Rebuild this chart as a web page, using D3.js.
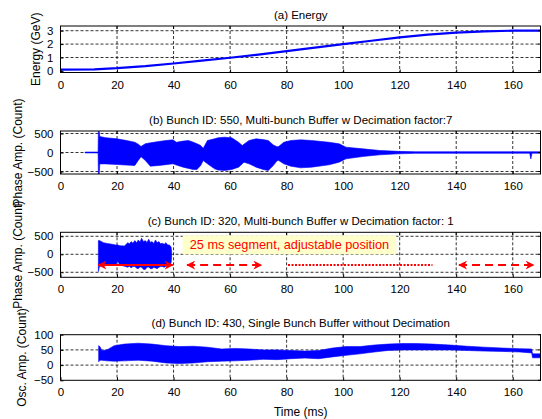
<!DOCTYPE html>
<html>
<head>
<meta charset="utf-8">
<script src="https://cdn.jsdelivr.net/npm/d3@7"></script>
<style>
  html, body { margin: 0; padding: 0; background: #fff; }
  svg { display: block; }
  text { font-family: "Liberation Sans", Arial, sans-serif; fill: #000; }
</style>
</head>
<body>
<svg id="chart" width="542" height="419"></svg>
<script>
// ---------------- DATA ----------------
const xTicks = [0, 20, 40, 60, 80, 100, 120, 140, 160];
const xDomain = [0, 170];

// (a) Energy
const energyTime = [0, 12, 20, 30, 40, 50, 60, 70, 80, 90, 100, 110, 120, 130, 140, 150, 160, 170];
const energyGeV  = [0.1, 0.12, 0.2, 0.35, 0.55, 0.76, 0.98, 1.22, 1.48, 1.74, 2.0, 2.25, 2.5, 2.7, 2.86, 2.95, 3.0, 3.0];
const energyTicks = [0, 1, 2, 3];

// (b) Bunch 550 envelope
const bTime  = [8.7, 13.3, 13.4, 13.7, 13.9, 16, 20, 23, 26.3, 27.5, 28.5, 30, 31.8, 34.8, 37.3, 39.8, 41, 43.4, 45.3, 47, 48.3, 49.6, 50.5, 52, 54.5, 55.7, 58, 60.6, 63, 64.3, 64.9, 66.7, 69.2, 71.7, 73.5, 75.3, 76.6, 77.2, 79, 81.5, 85, 88.8, 95, 98.6, 101, 107, 113, 119.5, 125.6, 166.0, 166.4, 166.8, 170];
const bUpper = [12, 12, 560, 560, 420, 390, 360, 320, 270, 220, 160, 230, 255, 290, 316, 333, 270, 300, 316, 270, 230, 185, 110, 316, 360, 386, 403, 386, 270, 184, 220, 316, 360, 340, 316, 200, 150, 160, 270, 316, 333, 316, 270, 228, 140, 96, 53, 30, 20, 20, 20, 20, 20];
const bLower = [-12, -12, -566, -566, -300, -300, -316, -330, -342, -210, -110, -210, -360, -342, -320, -298, -330, -386, -420, -447, -447, -342, -210, -298, -430, -460, -474, -447, -386, -300, -254, -298, -386, -447, -474, -342, -220, -210, -298, -360, -404, -386, -325, -254, -167, -105, -61, -35, -22, -20, -170, -20, -20];
const phaseTicks = [-500, 0, 500];

// (c) Bunch 320 envelope
const cTime  = [13.4, 13.8, 15.2, 16.5, 17.7, 19.5, 20.3, 21, 22.6, 23.8, 24.4, 25, 25.6, 26.3, 27, 27.5, 28.1, 28.7, 29.4, 30, 30.6, 31.2, 31.8, 32.4, 33, 33.6, 34.2, 34.8, 35.4, 36, 36.7, 37.3, 37.9, 38.5, 39.1, 39.3];
const cUpper = [380, 380, 324, 300, 287, 260, 259, 240, 231, 324, 290, 352, 310, 380, 320, 398, 340, 444, 350, 380, 330, 417, 330, 352, 300, 398, 320, 352, 290, 306, 280, 324, 260, 259, 213, 100];
const cLower = [-480, -330, -320, -310, -300, -280, -200, -300, -330, -360, -330, -380, -340, -340, -390, -400, -350, -360, -420, -420, -360, -350, -400, -400, -360, -380, -400, -360, -340, -340, -360, -330, -320, -300, -250, -100];

// (d) Bunch 430 envelope
const dTime  = [13.5, 14.0, 14.6, 16.4, 19, 22.6, 27.5, 32.4, 37.3, 42, 47, 52, 57, 61.8, 66.7, 71.7, 76.6, 81.5, 86.4, 91.3, 96.2, 101, 106, 111, 115.8, 120.7, 125.6, 131.8, 137.9, 144, 150, 156.3, 162.5, 166.7, 167.0, 170];
const dUpper = [64, 60, 48, 50, 64, 69, 72, 69, 64, 61, 62, 59, 53, 55, 53, 50, 50, 48, 46, 48, 56, 61, 61, 66, 69, 71, 71, 69, 66, 62, 59, 56, 54, 53, 37, 37];
const dLower = [11, 16, 16, 14, 13, 14, 16, 13, 7, 5, 7, 11, 13, 14, 16, 19, 18, 21, 23, 21, 27, 32, 37, 43, 48, 50, 50, 50, 50, 48, 46, 45, 43, 40, 24, 24];
const oscTicks = [-50, 0, 50, 100];

// annotation (panel c): segments in ms, and style type
const segStart = [13.4, 44.8, 80.5, 141];
const segEnd   = [39.7, 71.1, 131.6, 167.4];
const segStyle = ["solid", "dashed", "dotted", "dashed"];
const segValue = -300;   // vertical position in counts
const noteText = "25 ms segment, adjustable position";
const noteCenterMs = 81;
const noteValue = 230;

// ---------------- LAYOUT ----------------
const svg = d3.select("#chart");
const x = d3.scaleLinear().domain(xDomain).range([60.5, 541]);
const BLUE = "#0000ff";
const RED = "#ff0000";

const panels = [
  { top: 26,    bottom: 72.5,  domain: [-0.12, 3.35], ticks: energyTicks, grid: [1, 2, 3],
    title: "(a) Energy", ylabel: "Energy (GeV)", ylabelX: 40 },
  { top: 131,   bottom: 174,   domain: [-566, 566], ticks: phaseTicks, grid: [-500, 0, 500],
    title: "(b) Bunch ID: 550, Multi-bunch Buffer w Decimation factor:7", ylabel: "Phase Amp. (Count)", ylabelX: 22 },
  { top: 232.3, bottom: 277.3, domain: [-639, 611], ticks: phaseTicks, grid: [-500, 0, 500],
    title: "(c) Bunch ID: 320, Multi-bunch Buffer w Decimation factor: 1", ylabel: "Phase Amp. (Count)", ylabelX: 22 },
  { top: 334.7, bottom: 380.3, domain: [-50, 100], ticks: oscTicks, grid: [0, 50],
    title: "(d) Bunch ID: 430, Single Bunch Buffer without Decimation", ylabel: "Osc. Amp. (Count)", ylabelX: 26 }
];

const defs = svg.append("defs");
defs.append("marker")
  .attr("id", "head")
  .attr("viewBox", "0 0 10 10")
  .attr("refX", 9).attr("refY", 5)
  .attr("markerUnits", "userSpaceOnUse")
  .attr("markerWidth", 9).attr("markerHeight", 9)
  .attr("orient", "auto-start-reverse")
  .append("path")
  .attr("d", "M0,0 L10,5 L0,10 L3,5 z")
  .attr("fill", RED);

panels.forEach((p, i) => {
  p.y = d3.scaleLinear().domain(p.domain).range([p.bottom, p.top]);
  const g = svg.append("g");
  p.g = g;
  defs.append("clipPath").attr("id", "clip" + i)
    .append("rect").attr("x", x.range()[0]).attr("y", p.top)
    .attr("width", x.range()[1] - x.range()[0]).attr("height", p.bottom - p.top);

  // grid
  g.selectAll(".vg").data(xTicks.filter(t => t > 0)).join("line")
    .attr("x1", d => x(d)).attr("x2", d => x(d))
    .attr("y1", p.top).attr("y2", p.bottom)
    .attr("stroke", "#000").attr("stroke-width", 0.8).attr("stroke-dasharray", "3,2");
  g.selectAll(".hg").data(p.grid).join("line")
    .attr("x1", x.range()[0]).attr("x2", x.range()[1])
    .attr("y1", d => p.y(d)).attr("y2", d => p.y(d))
    .attr("stroke", "#000").attr("stroke-width", 0.8).attr("stroke-dasharray", "3,2");

  p.plot = g.append("g").attr("clip-path", `url(#clip${i})`);
});

// (a) energy line
const pa = panels[0];
pa.plot.append("path")
  .datum(energyTime.map((t, k) => [t, energyGeV[k]]))
  .attr("fill", "none").attr("stroke", BLUE).attr("stroke-width", 2.2)
  .attr("d", d3.line().x(d => x(d[0])).y(d => pa.y(d[1])));

// envelopes
function envelope(p, times, up, lo) {
  const data = times.map((t, k) => ({ t, u: up[k], l: lo[k] }));
  p.plot.append("path").datum(data)
    .attr("fill", BLUE).attr("stroke", BLUE).attr("stroke-width", 0.6)
    .attr("d", d3.area().x(d => x(d.t)).y0(d => p.y(d.l)).y1(d => p.y(d.u)));
}
envelope(panels[1], bTime, bUpper, bLower);
envelope(panels[2], cTime, cUpper, cLower);
envelope(panels[3], dTime, dUpper, dLower);

// axes box, ticks, labels
panels.forEach((p, i) => {
  const g = p.g;
  const xAxis = d3.axisBottom(x).tickValues(xTicks).tickSize(-3).tickPadding(8).tickFormat(d3.format("d"));
  const ax = g.append("g").attr("transform", `translate(0,${p.bottom})`).call(xAxis);
  const yAxis = d3.axisLeft(p.y).tickValues(p.ticks).tickSize(-3).tickPadding(7).tickFormat(d3.format("d"));
  const ay = g.append("g").attr("transform", `translate(${x.range()[0]},0)`).call(yAxis);
  [ax, ay].forEach(a => {
    a.select(".domain").remove();
    a.selectAll("line").attr("stroke", "#000");
    a.selectAll("text").attr("font-size", 11.5).attr("font-family", "'Liberation Sans', Arial, sans-serif").attr("fill", "#000");
  });
  // top/right ticks
  g.selectAll(".tt").data(xTicks).join("line")
    .attr("x1", d => x(d)).attr("x2", d => x(d)).attr("y1", p.top).attr("y2", p.top + 3).attr("stroke", "#000");
  g.selectAll(".rt").data(p.ticks).join("line")
    .attr("x1", x.range()[1]).attr("x2", x.range()[1] - 3).attr("y1", d => p.y(d)).attr("y2", d => p.y(d)).attr("stroke", "#000");
  g.append("rect")
    .attr("x", x.range()[0]).attr("y", p.top)
    .attr("width", x.range()[1] - x.range()[0] - 0.5).attr("height", p.bottom - p.top)
    .attr("fill", "none").attr("stroke", "#000").attr("stroke-width", 1);

  g.append("text")
    .attr("x", (x.range()[0] + x.range()[1]) / 2).attr("y", p.top - 7.5)
    .attr("text-anchor", "middle").attr("font-size", 11.5)
    .text(p.title);

  g.append("text")
    .attr("transform", `translate(${p.ylabelX},${(p.top + p.bottom) / 2}) rotate(-90)`)
    .attr("text-anchor", "middle").attr("font-size", 12)
    .text(p.ylabel);
});

svg.append("text")
  .attr("x", (x.range()[0] + x.range()[1]) / 2).attr("y", 416)
  .attr("text-anchor", "middle").attr("font-size", 12)
  .text("Time (ms)");

// annotation in panel c
const pc = panels[2];
const ann = pc.g.append("g");
const noteG = ann.append("g");
const noteRect = noteG.append("rect").attr("fill", "#ffffcc");
const note = noteG.append("text")
  .attr("x", x(noteCenterMs)).attr("y", pc.y(noteValue))
  .attr("text-anchor", "middle").attr("dominant-baseline", "middle")
  .attr("font-family", "Lato, 'Open Sans', sans-serif")
  .attr("font-size", 14).style("fill", RED)
  .text(noteText);
// fit text width to the reference box width
const targetW = x(118.8) - x(43.2) - 14;
const w0 = note.node().getComputedTextLength();
note.attr("font-size", 14 * targetW / w0);
const bb = note.node().getBBox();
noteRect.attr("x", x(43.2)).attr("width", x(118.8) - x(43.2))
  .attr("y", bb.y - 2).attr("height", bb.height + 4);

segStart.forEach((s, k) => {
  const st = segStyle[k];
  const line = ann.append("line")
    .attr("x1", x(s)).attr("x2", x(segEnd[k]))
    .attr("y1", pc.y(segValue)).attr("y2", pc.y(segValue))
    .attr("stroke", RED).attr("stroke-width", 2);
  if (st === "dashed") {
    line.attr("stroke-dasharray", "8,5")
      .attr("marker-start", "url(#head)").attr("marker-end", "url(#head)");
  } else if (st === "dotted") {
    line.attr("stroke-dasharray", "2,1.5");
  } else {
    line.attr("marker-start", "url(#head)").attr("marker-end", "url(#head)");
  }
});
</script>
</body>
</html>
